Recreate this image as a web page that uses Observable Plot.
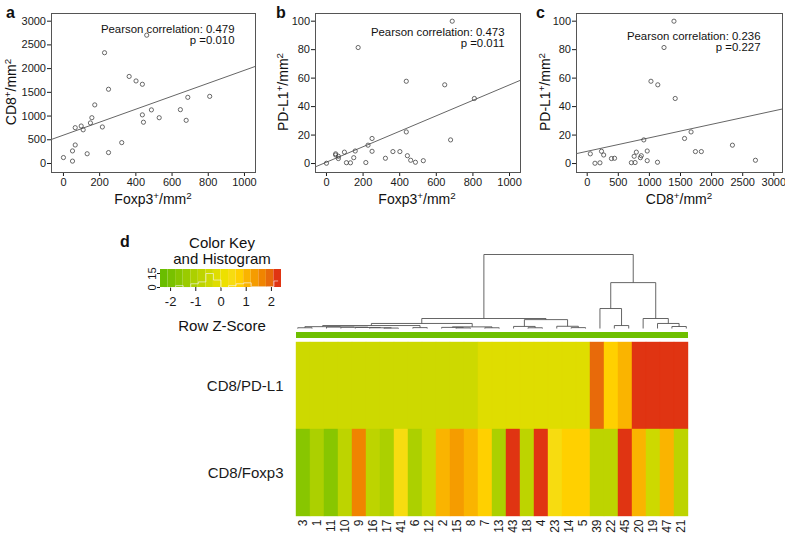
<!DOCTYPE html>
<html><head><meta charset="utf-8">
<script src="https://cdn.jsdelivr.net/npm/d3@7"></script>
<script src="https://cdn.jsdelivr.net/npm/@observablehq/plot@0.6"></script>
<style>
body{margin:0;background:#fff;}
#fig{position:relative;width:785px;height:535px;overflow:hidden;font-family:"Liberation Sans",Arial,Helvetica,sans-serif;color:#111;background:#fff;}
.lbl{position:absolute;white-space:nowrap;font-size:14px;line-height:1;}
.key{font-size:15px;}
.yt{transform:translate(-50%,-50%) rotate(-90deg);}
.xt{transform:translate(-50%,-50%);}
.pl{position:absolute;font-weight:bold;font-size:16px;line-height:1;}
sup{font-size:70%;vertical-align:baseline;position:relative;top:-0.5em;}
</style></head><body><div id="fig"></div>
<script>
// ---------- data: panels a-c (one row per patient) ----------
const foxp3 = [0,50,50,65,65,98,109,131,149,157,173,215,227,249,249,322,363,401,436,436,442,460,486,529,646,678,687,808];
const cd8   = [125,50,265,390,755,790,710,205,855,965,1235,770,2335,1565,230,440,1835,1740,1670,1025,870,2705,1130,965,1135,910,1395,1415];
const pdl1  = [0.2,6.8,6.0,3.5,5.1,8.0,0.6,0.5,4.1,8.8,81.5,0.7,12.9,17.6,8.6,3.7,8.4,8.4,22.2,57.8,5.5,2.3,0.9,2.0,55.3,16.6,100,45.7];
const fitA = {intercept: 598, slope: 1.367};
const fitB = {intercept: 0.96, slope: 0.0543};
const fitC = {intercept: 8.6, slope: 0.00947};
const noteA = ["Pearson correlation: 0.479", "p =0.010"];
const noteB = ["Pearson correlation: 0.473", "p =0.011"];
const noteC = ["Pearson correlation: 0.236", "p =0.227"];
const ticksFoxp3 = [0,200,400,600,800,1000];
const ticksCD8 = [0,500,1000,1500,2000,2500,3000];
const ticksPDL1 = [0,20,40,60,80,100];

// ---------- data: panel d (heatmap) ----------
const sampleIds = ["3","1","11","10","9","16","17","41","6","12","2","15","8","7","13","43","18","4","23","14","5","39","22","45","20","19","47","21"];
const rowNames = ["CD8/PD-L1","CD8/Foxp3"];
const zPdl1  = [-0.45,-0.45,-0.45,-0.45,-0.45,-0.45,-0.45,-0.45,-0.45,-0.45,-0.45,-0.45,-0.45,-0.15,-0.15,-0.15,-0.15,-0.15,-0.15,-0.15,-0.15,1.95,0.75,1.05,2.25,2.25,2.25,2.25];
const zFoxp3 = [-1.65,-1.05,-1.65,-0.75,1.65,-0.75,-1.05,0.45,-1.05,-0.45,1.05,1.35,1.05,0.75,-1.05,2.25,-0.75,2.25,0.45,0.75,0.75,-0.85,-0.85,2.25,1.05,-0.45,1.05,-0.75];
const keyBreaks = [-2.4,-2.1,-1.8,-1.5,-1.2,-0.9,-0.6,-0.3,0,0.3,0.6,0.9,1.2,1.5,1.8,2.1,2.4];
const keyColors = ["#6abd00","#78c100","#88c600","#9acb00","#acd000","#bdd400","#cdd900","#dfdd00","#ede000","#f7dc10","#ffd000","#fab400","#f59c00","#f08400","#e86a0a","#e03412"];
const keyTicks = [-2,-1,0,1,2];
const keyCountTicks = [0,15];
const sideColor = "#6ebf00";
// dendrogram merges: [left, right, height]; numbers = leaf position, "mK" = merge K
const dendroMerges = [
  [0,1,0.1],[6,7,0.06],[5,"m1",0.1],[4,"m2",0.14],[3,"m3",0.18],[2,"m4",0.2],["m0","m5",0.25],
  [8,9,0.12],["m6","m7",0.4],[11,12,0.08],[10,"m9",0.15],[13,14,0.1],["m10","m11",0.22],
  ["m8","m12",0.68],[16,17,0.1],[15,"m14",0.28],[19,20,0.12],[18,"m16",0.3],["m15","m17",1.2],
  ["m13","m18",1.35],[22,23,0.4],[21,"m20",2.7],[26,27,0.27],[25,"m22",0.68],[24,"m23",1.35],
  ["m21","m24",6.2],["m19","m25",10]
];

// ---------- helpers ----------
const FONT = '"Liberation Sans", Arial, Helvetica, sans-serif';
const fig = document.getElementById("fig");
function place(node, left, top){ node.style.position="absolute"; node.style.left=left+"px"; node.style.top=top+"px"; fig.appendChild(node); }
function html(cls, inner, x, y){ const d=document.createElement("div"); d.className=cls; d.innerHTML=inner; d.style.left=x+"px"; d.style.top=y+"px"; fig.appendChild(d); }
const baseStyle = {fontFamily: FONT, fontSize: "11px", color: "#1a1a1a", background: "transparent", overflow: "visible"};

const patients = foxp3.map((f,i)=>({foxp3:f, cd8:cd8[i], pdl1:pdl1[i]}));

function scatter(o){
  return Plot.plot({
    width:o.w, height:210, marginLeft:o.ml, marginRight:o.mr, marginTop:13, marginBottom:38,
    style: baseStyle,
    x:{domain:o.xd, ticks:o.xt, tickSize:4, tickPadding:2, label:null, tickFormat:d=>String(d)},
    y:{domain:o.yd, ticks:o.yt, tickSize:4, tickPadding:1.5, label:null, tickFormat:d=>String(d)},
    marks:[
      Plot.frame({stroke:"#555", strokeWidth:1}),
      Plot.line(o.xd, {x:d=>d, y:d=>o.fit.intercept + o.fit.slope*d, stroke:"#666", strokeWidth:1, clip:true}),
      Plot.dot(patients, {x:o.xk, y:o.yk, r:2.1, stroke:"#444", strokeWidth:0.8, fill:"none"}),
      Plot.text([o.note[0]], {text:d=>d, frameAnchor:"top-right", textAnchor:"end", lineAnchor:"middle", dx:o.ndx, dy:o.ndy, fontSize:11.4, fill:"#111"}),
      Plot.text([o.note[1]], {text:d=>d, frameAnchor:"top-right", textAnchor:"end", lineAnchor:"middle", dx:o.ndx, dy:o.ndy+11, fontSize:11.4, fill:"#111"})
    ]
  });
}

place(scatter({w:265, ml:51, mr:10, xd:[-66,1061], yd:[-190,3162], xt:ticksFoxp3, yt:ticksCD8, xk:"foxp3", yk:"cd8", fit:fitA, note:noteA, ndx:-21, ndy:16}), 0, 0);
place(scatter({w:265, ml:50, mr:10, xd:[-60,1060], yd:[-6.3,105.4], xt:ticksFoxp3, yt:ticksPDL1, xk:"foxp3", yk:"pdl1", fit:fitB, note:noteB, ndx:-16, ndy:19}), 265, 0);
place(scatter({w:260, ml:51, mr:3, xd:[-172,3140], yd:[-6.3,105.4], xt:ticksCD8, yt:ticksPDL1, xk:"cd8", yk:"pdl1", fit:fitC, note:noteC, ndx:-22, ndy:23}), 525, 0);

html("lbl yt", "CD8<sup>+</sup>/mm<sup>2</sup>", 11, 92);
html("lbl xt", "Foxp3<sup>+</sup>/mm<sup>2</sup>", 153, 199);
html("lbl yt", "PD-L1<sup>+</sup>/mm<sup>2</sup>", 283, 92);
html("lbl xt", "Foxp3<sup>+</sup>/mm<sup>2</sup>", 417, 199);
html("lbl yt", "PD-L1<sup>+</sup>/mm<sup>2</sup>", 545, 92);
html("lbl xt", "CD8<sup>+</sup>/mm<sup>2</sup>", 679, 199);
html("pl", "a", 6, 5);
html("pl", "b", 276, 5);
html("pl", "c", 536, 5);
html("pl", "d", 120, 234);

// ---------- color key ----------
const keyBins = keyColors.map((c,i)=>({lo:keyBreaks[i], hi:keyBreaks[i+1], c}));
const allZ = zPdl1.concat(zFoxp3);
const keyPlot = Plot.plot({
  width:190, height:105, marginLeft:60, marginRight:9, marginTop:39, marginBottom:48,
  style: Object.assign({}, baseStyle, {fontSize:"13px"}),
  x:{domain:[keyBreaks[0], keyBreaks[keyBreaks.length-1]], ticks:keyTicks, tickSize:4, tickPadding:5, label:null, tickFormat:d=>String(d)},
  y:{domain:[0,19.3], ticks:keyCountTicks, tickSize:3, tickPadding:2, label:null, tickRotate:-90, tickFormat:d=>String(d)},
  marks:[
    Plot.rect(keyBins, {x1:"lo", x2:"hi", fill:"c"}),
    Plot.lineY(allZ, Plot.binX({y:"count", filter:null}, {x:d=>d, thresholds:keyBreaks, domain:[keyBreaks[0], keyBreaks[keyBreaks.length-1]], curve:"step", stroke:"#f4f4f4", strokeWidth:0.8, strokeOpacity:0.8}))
  ]
});
keyPlot.querySelectorAll('[aria-label="y-axis tick label"] text').forEach(t=>t.setAttribute("font-size","11"));
place(keyPlot, 100, 230);
html("lbl xt key", "Color Key", 222, 242);
html("lbl xt key", "and Histogram", 222, 258);
html("lbl xt key", "Row Z-Score", 222, 325);

// ---------- dendrogram ----------
function dendroSegments(merges){
  const pos=[], ht=[], segs=[];
  const get = r => typeof r === "number" ? {x:r, h:0} : {x:pos[+r.slice(1)], h:ht[+r.slice(1)]};
  merges.forEach(([a,b,h],k)=>{
    const A=get(a), B=get(b);
    pos[k]=(A.x+B.x)/2; ht[k]=h;
    segs.push({x1:A.x,y1:h,x2:B.x,y2:h},{x1:A.x,y1:h,x2:A.x,y2:A.h},{x1:B.x,y1:h,x2:B.x,y2:B.h});
  });
  return segs;
}
const dendroPlot = Plot.plot({
  width:785, height:80, marginLeft:290, marginRight:92, marginTop:4, marginBottom:2,
  style: baseStyle,
  x:{domain:[-0.5, sampleIds.length-0.5], axis:null},
  y:{domain:[0,10], axis:null},
  marks:[ Plot.link(dendroSegments(dendroMerges), {x1:"x1", y1:"y1", x2:"x2", y2:"y2", stroke:"#555", strokeWidth:0.9}) ]
});
place(dendroPlot, 0, 250);

// side colour bar
const sidePlot = Plot.plot({
  width:785, height:6, marginLeft:290, marginRight:92, marginTop:0, marginBottom:0,
  style: baseStyle,
  x:{domain:sampleIds, padding:0, axis:null},
  marks:[ Plot.cell(sampleIds, {x:d=>d, fill:sideColor, inset:0, shapeRendering:"crispEdges"}) ]
});
place(sidePlot, 0, 332);

// ---------- heatmap ----------
const cells = [];
sampleIds.forEach((s,i)=>{
  cells.push({col:s, row:rowNames[0], z:zPdl1[i]});
  cells.push({col:s, row:rowNames[1], z:zFoxp3[i]});
});
const heat = Plot.plot({
  width:785, height:205, marginLeft:290, marginRight:92, marginTop:12, marginBottom:19,
  style: Object.assign({}, baseStyle, {fontSize:"12px"}),
  x:{domain:sampleIds, padding:0, tickSize:0, tickPadding:3, tickRotate:-90, label:null},
  y:{domain:rowNames, padding:0, tickSize:0, tickPadding:7, label:null},
  color:{type:"threshold", domain:keyBreaks.slice(1,-1), range:keyColors},
  marks:[ Plot.cell(cells, {x:"col", y:"row", fill:"z", inset:0, stroke:"z", strokeWidth:0.4}) ]
});
heat.querySelectorAll('[aria-label="y-axis tick label"] text').forEach(t=>t.setAttribute("font-size","15"));
place(heat, 0, 330);
</script></body></html>
